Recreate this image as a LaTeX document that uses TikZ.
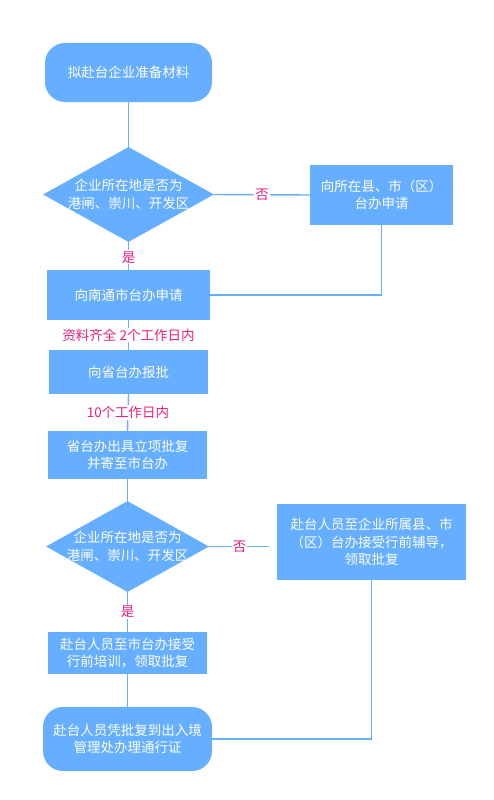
\documentclass[tikz,border=0pt]{standalone}
\usepackage{fontspec}
\setmainfont{Noto Sans CJK SC}
\usetikzlibrary{shapes.geometric}
\definecolor{boxblue}{RGB}{102,174,255}
\definecolor{labpink}{RGB}{232,32,126}
\tikzset{
  base/.style={fill=boxblue, draw=none, text=white, font=\fontsize{13.5}{17.5}\selectfont, align=center, inner sep=0pt},
  rbox/.style={base, rectangle},
  pill/.style={base, rectangle, rounded corners=20pt},
  decision/.style={base, diamond, aspect=1.8},
  dtext/.style={font=\fontsize{13.5}{17.5}\selectfont, text=white, align=center},
  conn/.style={draw=boxblue, line width=1.4pt},
  lab/.style={text=labpink, fill=white, font=\fontsize{13.5}{16}\selectfont, inner sep=1pt}
}
\begin{document}
\begin{tikzpicture}[x=1pt,y=-1pt]
\useasboundingbox (0,0) rectangle (494,800);
% nodes
\node[pill, minimum width=167pt, minimum height=59pt] (start) at (128.5,72.5) {拟赴台企业准备材料};
\node[decision, minimum width=171pt, minimum height=95pt] (d1) at (128.5,194.5) {};
\node[dtext] (d1t) at (d1.center) {企业所在地是否为\\港闸、崇川、开发区};
\node[rbox, minimum width=143pt, minimum height=60pt] (r1) at (381.5,195) {向所在县、市（区）\\台办申请};
\node[rbox, minimum width=163pt, minimum height=50pt] (nt) at (128.5,295) {向南通市台办申请};
\node[rbox, minimum width=159pt, minimum height=44pt] (sheng) at (128.5,372) {向省台办报批};
\node[rbox, minimum width=159pt, minimum height=48pt] (pf) at (127.5,455) {省台办出具立项批复\\并寄至市台办};
\node[decision, minimum width=163pt, minimum height=91pt] (d2) at (127.5,546.5) {};
\node[dtext] (d2t) at (d2.center) {企业所在地是否为\\港闸、崇川、开发区};
\node[rbox, minimum width=189pt, minimum height=76pt] (r2) at (371.5,542) {赴台人员至企业所属县、市\\（区）台办接受行前辅导，\\领取批复};
\node[rbox, minimum width=159pt, minimum height=42pt] (px) at (127.5,653) {赴台人员至市台办接受\\行前培训，领取批复};
\node[pill, minimum width=169pt, minimum height=64pt] (end) at (127.5,739) {赴台人员凭批复到出入境\\管理处办理通行证};
% connectors
\draw[conn] (start.south) -- (d1.north);
\draw[conn] (d1.east) -- node[lab]{否} (r1.west);
\draw[conn] (d1.south) -- node[lab, pos=0.55]{是} (nt.north);
\draw[conn] (r1.south) |- (nt.east);
\draw[conn] (nt.south) -- node[lab]{资料齐全 2个工作日内} (sheng.north);
\draw[conn] (sheng.south) -- node[lab]{10个工作日内} (pf.north);
\draw[conn] (pf.south) -- (d2.north);
\draw[conn, shorten >=8pt] (d2.east) -- node[lab, pos=0.45]{否} (r2.west |- d2.east);
\draw[conn] (d2.south) -- node[lab]{是} (px.north);
\draw[conn] (px.south) -- (end.north);
\draw[conn] (r2.south) |- (end.east);
\end{tikzpicture}
\end{document}
